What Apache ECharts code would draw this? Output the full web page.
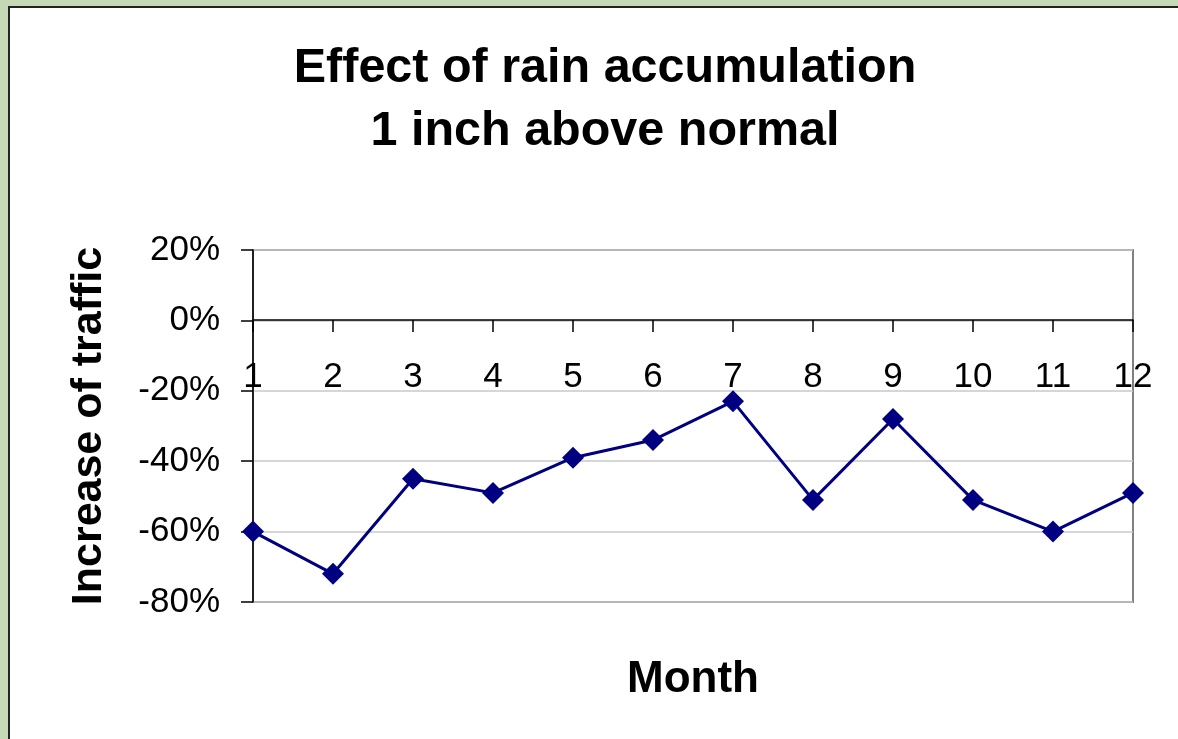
<!DOCTYPE html>
<html>
<head>
<meta charset="utf-8">
<script src="https://cdn.jsdelivr.net/npm/echarts@6/dist/echarts.min.js"></script>
<style>
html,body{margin:0;padding:0;background:#c6d9b7;}
#chart{width:1178px;height:739px;}
</style>
</head>
<body>
<div id="chart"></div>
<script>
var months = ['1','2','3','4','5','6','7','8','9','10','11','12'];
var trafficIncrease = [-0.60, -0.72, -0.45, -0.49, -0.39, -0.34, -0.23, -0.51, -0.28, -0.51, -0.60, -0.49];
var titleText = 'Effect of rain accumulation\n1 inch above normal';
var yName = 'Increase of traffic';
var xName = 'Month';

var chart = echarts.init(document.getElementById('chart'), null, {renderer: 'canvas'});
var font = 'Liberation Sans, Arial, sans-serif';
chart.setOption({
  backgroundColor: '#c6d9b7',
  animation: false,
  graphic: [{
    type: 'rect',
    z: -10,
    silent: true,
    shape: {x: 9, y: 7, width: 1250, height: 800},
    style: {fill: '#ffffff', stroke: '#222222', lineWidth: 2}
  }],
  title: {
    text: titleText,
    left: 600,
    textAlign: 'center',
    top: 32,
    textStyle: {fontFamily: font, fontSize: 48.5, fontWeight: 'bold', color: '#000', lineHeight: 63}
  },
  grid: {
    left: 253, right: 45, top: 250, bottom: 137,
    containLabel: false,
    outerBoundsMode: 'none',
    show: true, borderColor: '#808080', borderWidth: 2, backgroundColor: 'transparent'
  },
  xAxis: {
    type: 'category',
    data: months,
    boundaryGap: false,
    position: 'bottom',
    offset: -282,
    name: xName,
    nameLocation: 'middle',
    nameGap: 338,
    nameTextStyle: {fontFamily: font, fontSize: 44, fontWeight: 'bold', color: '#000'},
    axisLine: {onZero: false, lineStyle: {color: '#000', width: 1.5}},
    axisTick: {show: true, alignWithLabel: true, length: 12, lineStyle: {color: '#000', width: 1.5}},
    axisLabel: {fontFamily: font, fontSize: 35, color: '#000', margin: 40, interval: 0},
    splitLine: {show: false}
  },
  yAxis: {
    type: 'value',
    min: -0.8, max: 0.2, interval: 0.2,
    name: yName,
    nameLocation: 'middle',
    nameGap: 142,
    nameRotate: 90,
    nameTextStyle: {fontFamily: font, fontSize: 43, fontWeight: 'bold', color: '#000'},
    axisLine: {show: true, lineStyle: {color: '#000', width: 1.5}},
    axisTick: {show: true, length: 12, lineStyle: {color: '#000', width: 1.5}},
    axisLabel: {
      fontFamily: font, fontSize: 35, color: '#000', margin: 33,
      formatter: function (v) { return Math.round(v * 100) + '%'; }
    },
    splitLine: {show: true, lineStyle: {color: '#c8c8c8', width: 1.5}}
  },
  series: [{
    type: 'line',
    data: trafficIncrease,
    symbol: 'diamond',
    symbolSize: 22,
    lineStyle: {color: '#000080', width: 3},
    itemStyle: {color: '#000080'},
    z: 5
  }]
});
</script>
</body>
</html>
